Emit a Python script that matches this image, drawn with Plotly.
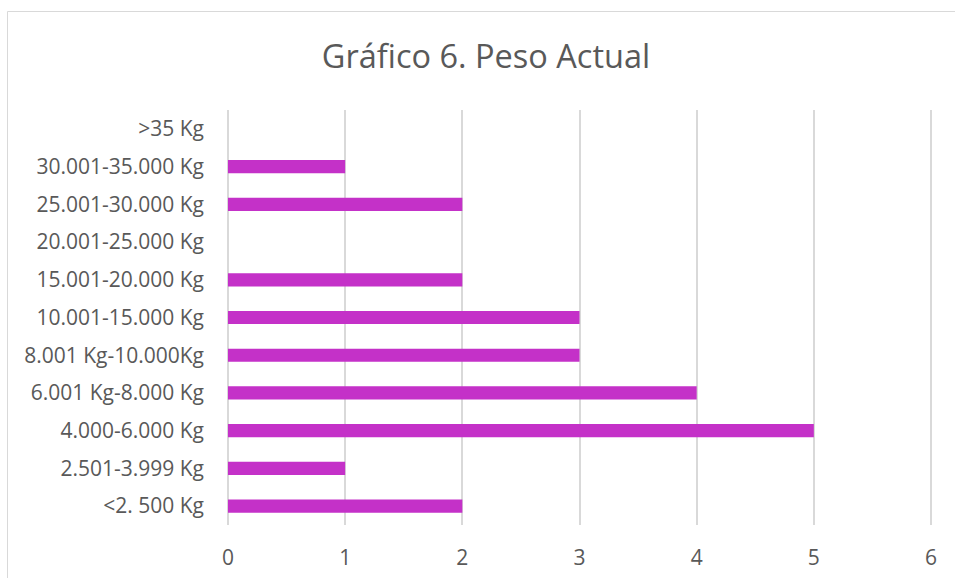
import plotly.graph_objects as go

# Weight brackets (bottom to top) and number of cases in each
categorias = [
    "<2. 500 Kg",
    "2.501-3.999 Kg",
    "4.000-6.000 Kg",
    "6.001 Kg-8.000 Kg",
    "8.001 Kg-10.000Kg",
    "10.001-15.000 Kg",
    "15.001-20.000 Kg",
    "20.001-25.000 Kg",
    "25.001-30.000 Kg",
    "30.001-35.000 Kg",
    ">35 Kg",
]
casos = [2, 1, 5, 4, 3, 3, 2, 0, 2, 1, 0]
ticks_x = [0, 1, 2, 3, 4, 5, 6]

W, H = 955, 578
L, R, T, B = 226, 22, 110, 53
pw, ph = W - L - R, H - T - B

texto = "#595959"
fuente = "Open Sans"

fig = go.Figure(
    go.Bar(
        x=casos,
        y=categorias,
        orientation="h",
        width=0.35,
        marker=dict(color="#C431C8", line=dict(width=0)),
    )
)

# Light frame around the chart area
fig.add_shape(
    type="rect", xref="paper", yref="paper",
    x0=(7.5 - L) / pw, x1=2.0,
    y0=-0.5, y1=(ph + T - 11.5) / ph,
    line=dict(color="#D9D9D9", width=1), fillcolor="rgba(0,0,0,0)",
    layer="below",
)

fig.update_layout(
    width=W, height=H,
    margin=dict(l=L, r=R, t=T, b=B, pad=0, autoexpand=False),
    paper_bgcolor="white", plot_bgcolor="white",
    showlegend=False,
    title=dict(
        text="Gráfico 6. Peso Actual",
        x=486 / W, xanchor="center", xref="container",
        y=1 - 57 / H, yanchor="middle", yref="container",
        font=dict(family=fuente, size=32.5, color=texto),
    ),
    xaxis=dict(
        range=[-0.017, 6.017], tickvals=ticks_x,
        showgrid=True, gridcolor="#D9D9D9", gridwidth=1.5,
        zeroline=False, showline=False, ticks="",
        ticklabelstandoff=18, automargin=False,
        tickfont=dict(family=fuente, size=21, color=texto),
        fixedrange=True,
    ),
    yaxis=dict(
        categoryorder="array", categoryarray=categorias,
        range=[-0.5, len(categorias) - 0.5],
        showgrid=False, zeroline=False, showline=False, ticks="",
        ticklabelstandoff=21, automargin=False,
        tickfont=dict(family=fuente, size=21, color=texto),
        fixedrange=True,
    ),
)

fig.write_html("out.html")
